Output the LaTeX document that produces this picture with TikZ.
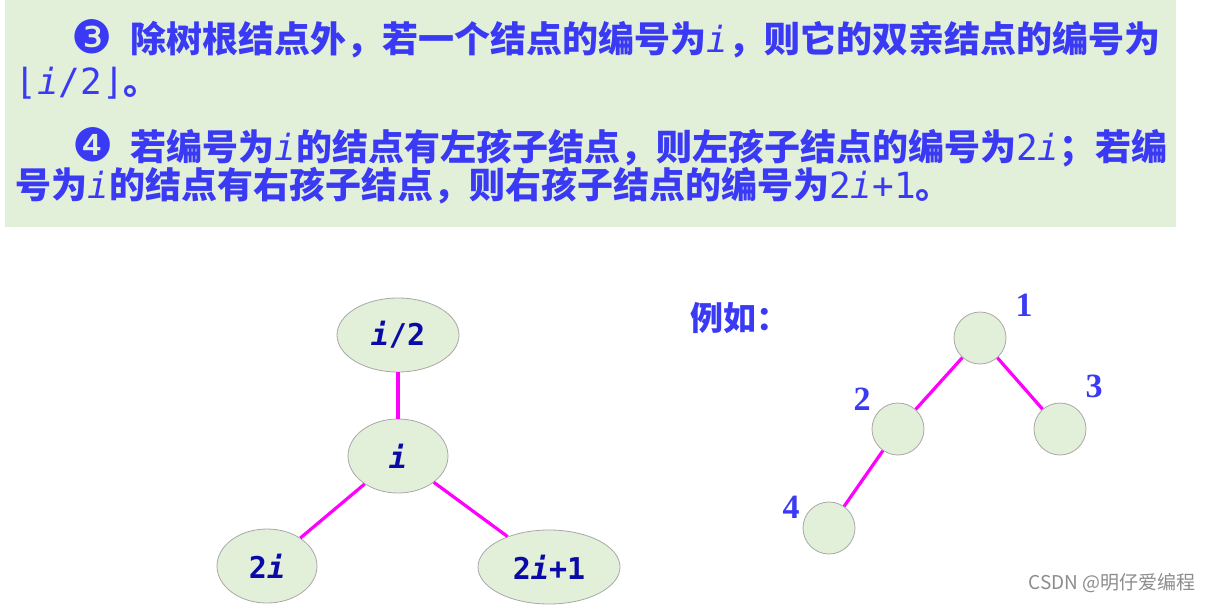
\documentclass[tikz,border=0pt]{standalone}
\usepackage{fontspec}
\usetikzlibrary{shapes.geometric}
\setmainfont{Liberation Serif}
\newfontfamily\cjk{Noto Sans CJK SC}
\newfontfamily\mono{DejaVu Sans Mono}
\newfontfamily\dings{DejaVu Sans}
\XeTeXlinebreaklocale "zh"
\XeTeXlinebreakskip=0pt plus 3pt
\definecolor{leafgreen}{HTML}{E2EFD9}
\definecolor{textblue}{HTML}{3A3AF5}
\definecolor{nodeblue}{HTML}{0A0AA8}
\definecolor{rimgray}{HTML}{A8A8A8}
\definecolor{edgepink}{HTML}{FF00FF}
\newcommand{\imono}{{\mono\mdseries\itshape i}}
\newcommand{\tmono}[1]{{\mono\mdseries #1}}

\begin{document}
\begin{tikzpicture}[x=0.5pt,y=-0.5pt,
    rule/.style={anchor=west,inner sep=0pt,align=left,text=textblue},
    dot/.style={inner sep=0pt,text=textblue,font=\dings\fontsize{23}{23}\selectfont},
    oval/.style={ellipse,draw=rimgray,fill=leafgreen,minimum height=37pt,inner sep=0pt,text=nodeblue,font=\mono\bfseries\fontsize{15}{15}\selectfont},
    ball/.style={circle,draw=rimgray,fill=leafgreen,minimum size=26pt,inner sep=0pt},
    num/.style={inner sep=0pt,text=textblue,font=\bfseries\fontsize{17}{17}\selectfont},
    link/.style={draw=edgepink,line width=1.6pt}]
    \useasboundingbox (0,0) rectangle (1210,605);

    % banner with the two rules
    \fill[leafgreen] (5,0) rectangle (1176,227);
    \node[dot] (n3) at (92,37) {❸};
    \node[rule,font=\cjk\bfseries\fontsize{18}{21}\selectfont] (r3) at (15,60)
      {\hspace*{57.5pt}\makebox[515pt][s]{除树根结点外，若一个结点的编号为\imono，则它的双亲结点的编号为}\\
       \tmono{⌊\textit{i}/2⌋}。};
    \node[dot] (n4) at (93,145) {❹};
    \node[rule,font=\cjk\bfseries\fontsize{18}{19}\selectfont] (r4) at (15,167)
      {\hspace*{57.5pt}\makebox[515pt][s]{若编号为\imono 的结点有左孩子结点，则左孩子结点的编号为\tmono{2\textit{i}}；若编}\\
       号为\imono 的结点有右孩子结点，则右孩子结点的编号为\tmono{2\textit{i}+1}。};

    % general tree
    \node[oval,minimum width=61pt] (half) at (398,335) {\textit{i}/2};
    \node[oval,minimum width=50pt] (self) at (398,456) {\textit{i}};
    \node[oval,minimum width=50pt] (left) at (267,566) {2\textit{i}};
    \node[oval,minimum width=71pt] (right) at (549,567) {2\textit{i}+1};
    \draw[link] (half) -- (self);
    \draw[link] (self) -- (left);
    \draw[link] (self) -- (right);

    % example
    \node[inner sep=0pt,text=textblue,font=\cjk\bfseries\fontsize{16.5}{16.5}\selectfont] (eg) at (740,318) {例如：};
    \node[ball] (b1) at (980,338) {};
    \node[ball] (b2) at (898,429) {};
    \node[ball] (b3) at (1060,429) {};
    \node[ball] (b4) at (829,528) {};
    \draw[link] (b1) -- (b2);
    \draw[link] (b1) -- (b3);
    \draw[link] (b2) -- (b4);
    \node[num] (t1) at (1024,305) {1};
    \node[num] (t2) at (862,399) {2};
    \node[num] (t3) at (1094,386) {3};
    \node[num] (t4) at (791,507) {4};

    \node[inner sep=0pt,text=black!45,font=\cjk\fontsize{9.5}{9.5}\selectfont] (csdn) at (1112,583) {CSDN @明仔爱编程};
\end{tikzpicture}
\end{document}
